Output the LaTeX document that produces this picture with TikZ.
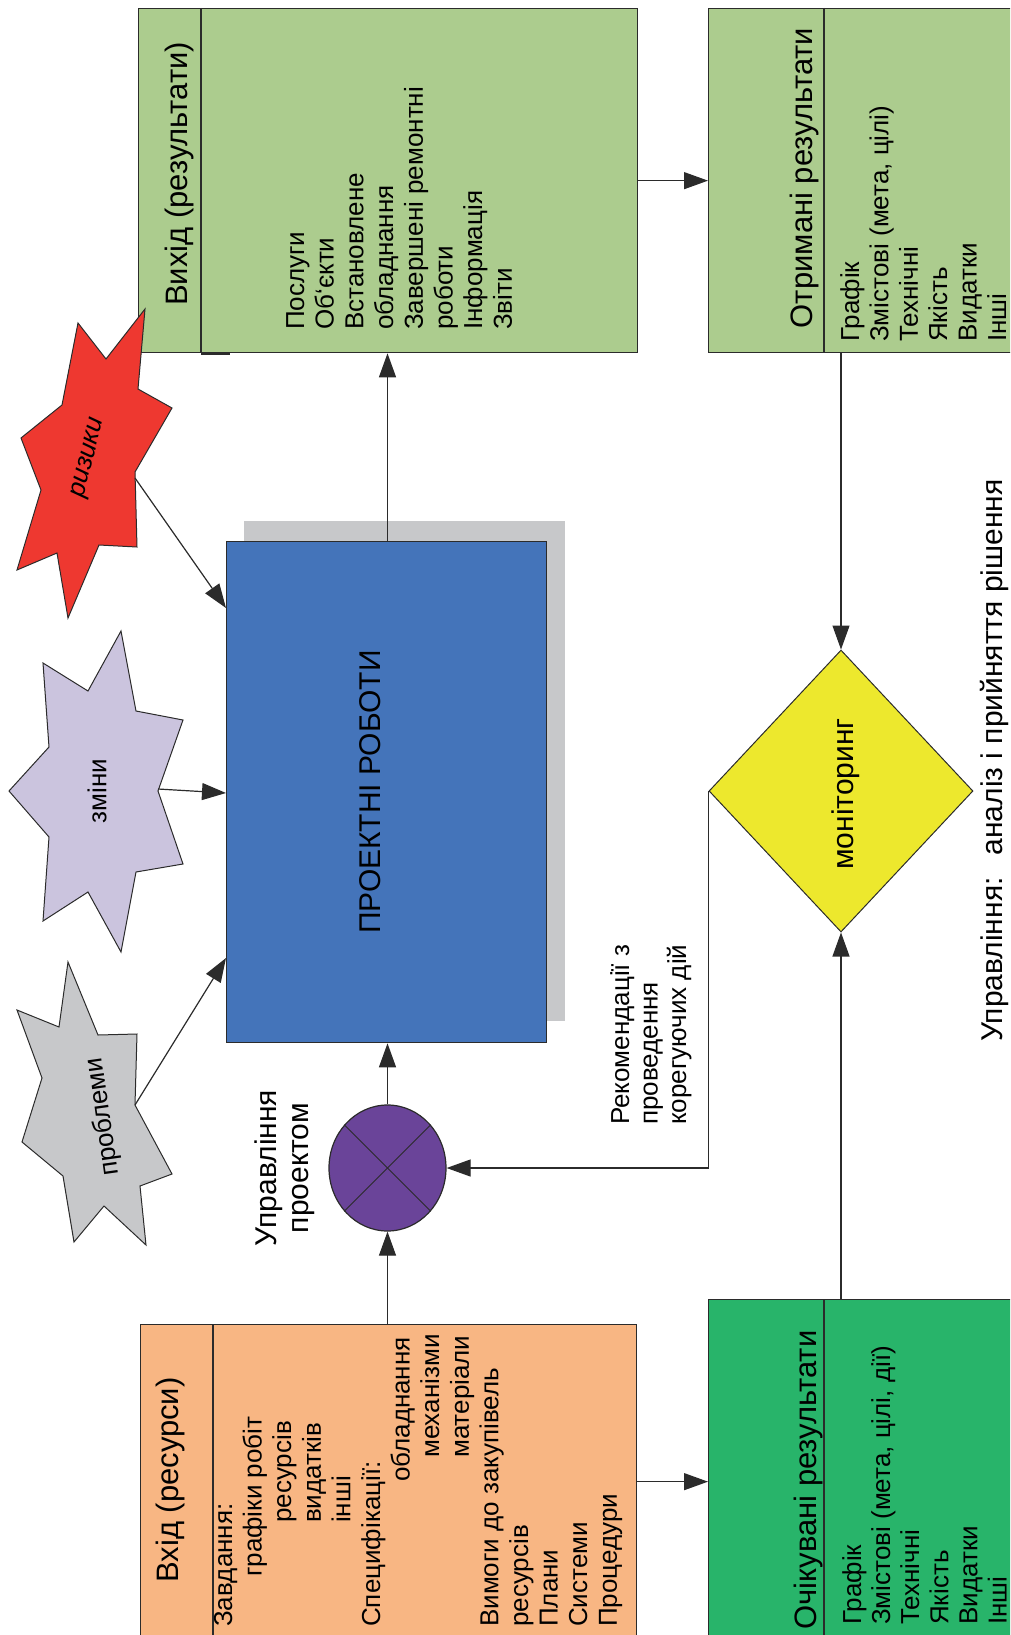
\documentclass[tikz,border=0pt]{standalone}
\usepackage{fontspec}
\setmainfont{Liberation Sans}
\usetikzlibrary{arrows.meta,shapes.geometric,calc}
\definecolor{cgreenl}{HTML}{ACCC8E}
\definecolor{cgreen}{HTML}{28B46A}
\definecolor{cpeach}{HTML}{F8B683}
\definecolor{cblue}{HTML}{4474BA}
\definecolor{cshadow}{HTML}{C7C8CA}
\definecolor{cpurple}{HTML}{6A4499}
\definecolor{cyellow}{HTML}{EDE82D}
\definecolor{cred}{HTML}{EE3830}
\definecolor{clav}{HTML}{CBC4DE}
\definecolor{cgrey}{HTML}{C7C8CA}
\definecolor{cline}{HTML}{2B2B2B}
\begin{document}
\begin{tikzpicture}[x=1pt,y=1pt,
  box/.style={draw=cline, line width=1.3pt, inner sep=0pt, anchor=north west},
  divider/.style={draw=cline, line width=1.3pt},
  arr/.style={draw=cline, line width=1.2pt, -{Triangle[length=24pt,width=17pt]}},
  titletext/.style={rotate=90, font=\fontsize{31}{36}\selectfont, inner sep=0pt},
  itemtext/.style={rotate=90, font=\fontsize{26}{30}\selectfont, inner sep=0pt, anchor=base west},
  bigtext/.style={rotate=90, font=\fontsize{30}{36}\selectfont, inner sep=0pt},
  startext/.style={font=\fontsize{26}{30}\selectfont, inner sep=0pt},
  starshape/.style={draw=cline, line width=1pt},
]
\useasboundingbox (0,0) rectangle (1010,-1635);
\clip (0,0) rectangle (1010,-1635);

% ---- boxes
\node[box, fill=cgreenl, minimum width=499pt, minimum height=344pt] (vyhid) at (138,-8) {};
\node[box, fill=cgreenl, minimum width=340pt, minimum height=344pt] (otrym) at (708,-8) {};
\node[box, fill=cpeach, minimum width=496pt, minimum height=314pt] (vhid) at (140,-1324) {};
\node[box, fill=cgreen, minimum width=340pt, minimum height=364pt] (ochik) at (708,-1299) {};

\draw[divider] ([xshift=63pt]vyhid.north west) -- ([xshift=63pt]vyhid.south west);
\draw[line width=3pt, cline] ([xshift=63pt]vyhid.south west) -- ([xshift=92pt]vyhid.south west);
\draw[divider] ([xshift=116pt]otrym.north west) -- ([xshift=116pt]otrym.south west);
\draw[divider] ([xshift=73pt]vhid.north west) -- ([xshift=73pt]vhid.south west);
\draw[divider] ([xshift=116pt]ochik.north west) -- ([xshift=116pt]ochik.south west);

% ---- main block
\node[anchor=north west, fill=cshadow, minimum width=321pt, minimum height=500pt, inner sep=0pt] (projshadow) at (244,-521) {};
\node[box, fill=cblue, minimum width=320pt, minimum height=501pt] (proj) at (226,-541) {};
\node[bigtext] (projt) at (370,-792) {ПРОЕКТНІ РОБОТИ};

% ---- control circle
\node[ellipse, draw=cline, line width=1.2pt, fill=cpurple, minimum width=117pt, minimum height=126pt, inner sep=0pt] (upr) at (387.5,-1168) {};
\draw[cline, line width=1pt] (upr.135) -- (upr.-45);
\draw[cline, line width=1pt] (upr.45) -- (upr.-135);

% ---- monitoring diamond
\node[diamond, draw=cline, line width=1pt, fill=cyellow, minimum width=264pt, minimum height=282pt, inner sep=0pt] (mon) at (841,-791) {};
\node[bigtext, anchor=base] (mont) at (853,-794) {моніторинг};

% ---- stars
\draw[starshape, fill=cred] (145,-309) -- (138,-389) -- (172,-408) -- (135,-472) -- (137,-547) -- (99,-545) -- (68,-618) -- (57,-553) -- (17,-570) -- (41,-490) -- (21,-438) -- (62,-405) -- (78,-323) -- (106,-359) -- cycle;
\coordinate (riskout) at (135,-478);
\node[startext, rotate=76, font=\fontsize{26}{30}\selectfont\itshape] (riskt) at (89,-458) {ризики};

\draw[starshape, fill=clav] (121,-631) -- (136,-711) -- (183,-720) -- (158,-791) -- (183,-864) -- (136,-872) -- (121,-952) -- (88,-892) -- (43,-921) -- (49,-837) -- (9,-791) -- (49,-747) -- (43,-663) -- (88,-691) -- cycle;
\coordinate (zminout) at (158,-789);
\node[startext, rotate=90] (zmint) at (97,-791) {зміни};

\draw[starshape, fill=cgrey] (68,-962) -- (98,-1035) -- (137,-1034) -- (135,-1105) -- (172,-1174) -- (140,-1186) -- (146,-1245) -- (104,-1206) -- (74,-1242) -- (63,-1176) -- (22,-1142) -- (42,-1078) -- (17,-1010) -- (59,-1027) -- cycle;
\coordinate (probout) at (135,-1105);
\node[startext, rotate=98] (probt) at (103,-1117) {проблеми};

\coordinate (riskin) at (226,-608);
\coordinate (zminin) at (226,-793);
\coordinate (probin) at (226,-958);
\draw[arr] (riskout) -- (riskin);
\draw[arr] (zminout) -- (zminin);
\draw[arr] (probout) -- (probin);

% ---- connectors
\draw[arr] (upr |- vhid.north) -- (upr.south);
\draw[arr] (upr.north) -- (upr |- proj.south);
\draw[arr] (upr |- proj.north) -- (upr |- vyhid.south);
\draw[arr] (vyhid.east) -- (otrym.west);
\draw[arr] (vhid.east) -- (ochik.west);
\draw[arr] (mon |- otrym.south) -- (mon.north);
\draw[arr] (mon |- ochik.north) -- (mon.south);
\draw[arr] (mon.west) -- (mon.west |- upr.east) -- (upr.east);

% ---- titles
\node[titletext] (vyhidt) at (179,-174) {Вихід (результати)};
\node[titletext] (vhidt) at (170.5,-1480) {Вхід (ресурси)};
\node[titletext] (otrymt) at (804,-178) {Отримані результати};
\node[titletext] (ochikt) at (808,-1480) {Очікувані результати};

% ---- item lists
\foreach \t [count=\i from 0] in {Послуги,Об`єкти,Встановлене,обладнання,Завершені ремонтні,роботи,Інформація,Звіти}
  \node[itemtext] (vyi\i) at ({304+29.7*\i},-330) {\t};

\foreach \t/\d [count=\i from 0] in {Завдання:/1627,графіки робіт/1577,ресурсів/1523,видатків/1523,інші/1523,Специфікації:/1627,обладнання/1482,механізми/1458,матеріали/1458,Вимоги до закупівель/1627,ресурсів/1627,Плани/1627,Системи/1627,Процедури/1627}
  \node[itemtext] (vhi\i) at ({232+29.6*\i},-\d) {\t};

\foreach \t [count=\i from 0] in {Графік,{Змістові (мета, цілі)},Технічні,Якість,Видатки,Інші}
  \node[itemtext] (oti\i) at ({859+29.4*\i},-342) {\t};

\foreach \t [count=\i from 0] in {Графік,{Змістові (мета, цілі, дії)},Технічні,Якість,Видатки,Інші}
  \node[itemtext] (ochi\i) at ({861+29.1*\i},-1625) {\t};

\foreach \t [count=\i from 0] in {Рекомендації з,проведення,корегуючих дій}
  \node[itemtext] (reci\i) at ({629+28.5*\i},-1125) {\t};

% ---- labels
\node[bigtext, anchor=base] (uprl1) at (276,-1168) {Управління};
\node[bigtext, anchor=base] (uprl2) at (308,-1168) {проектом};
\node[bigtext, anchor=base west] (ctrl) at (1002,-1042) {Управління:\hspace{22pt}аналіз і прийняття рішення};
\end{tikzpicture}
\end{document}
